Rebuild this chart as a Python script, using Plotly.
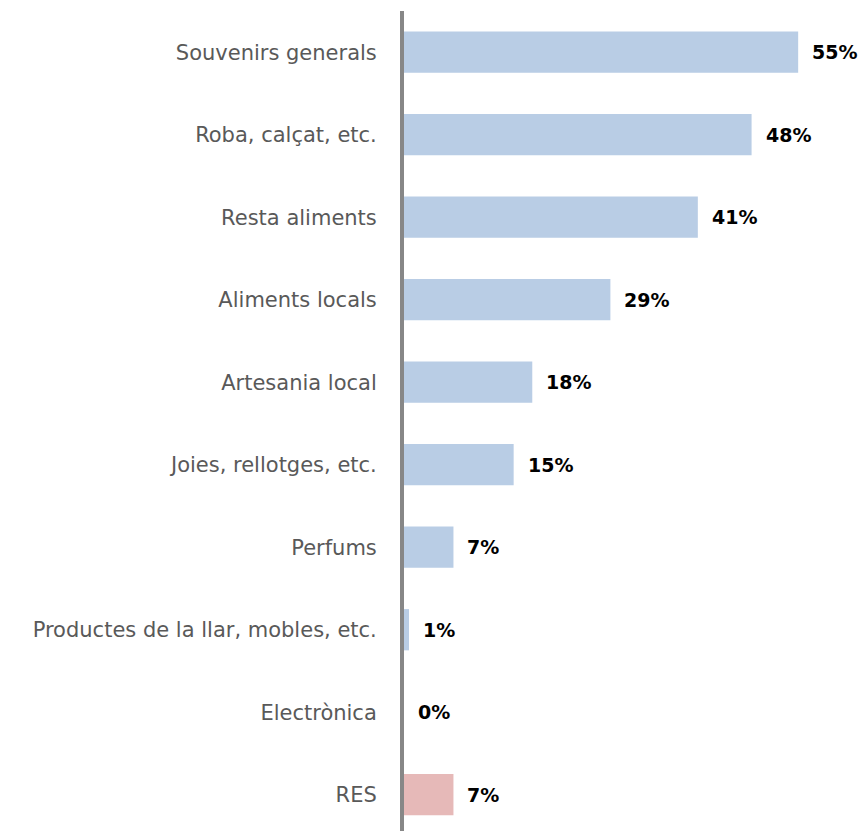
import plotly.graph_objects as go

categories = ["Souvenirs generals", "Roba, calçat, etc.", "Resta aliments", "Aliments locals",
              "Artesania local", "Joies, rellotges, etc.", "Perfums",
              "Productes de la llar, mobles, etc.", "Electrònica", "RES"]
values = [55.0, 48.5, 41.0, 28.8, 17.9, 15.3, 6.9, 0.7, 0.0, 6.9]
labels = ["55%", "48%", "41%", "29%", "18%", "15%", "7%", "1%", "0%", "7%"]
colors = ["#B9CDE5"] * 9 + ["#E6B9B8"]

fig = go.Figure()
fig.add_trace(go.Bar(
    x=values, y=categories, orientation="h",
    marker=dict(color=colors, line=dict(width=0)),
    width=0.5, hoverinfo="skip",
))

for c, v, t in zip(categories, values, labels):
    fig.add_annotation(x=v, y=c, text="<b>%s</b>" % t, showarrow=False,
                       xanchor="left", yanchor="middle", xshift=12,
                       font=dict(family="DejaVu Sans", size=19, color="#000000"))

fig.update_layout(
    width=862, height=831,
    margin=dict(l=404, r=28, t=11, b=0),
    plot_bgcolor="white", paper_bgcolor="white",
    showlegend=False,
    xaxis=dict(range=[0, 60], showgrid=False, zeroline=False, showticklabels=False,
               showline=False, ticks=""),
    yaxis=dict(type="category", categoryorder="array", categoryarray=categories,
               range=[9.44, -0.5], showgrid=False, zeroline=False,
               showline=True, linecolor="#878787", linewidth=4, ticks="",
               ticklabelstandoff=19,
               tickfont=dict(family="DejaVu Sans", size=21, color="#595959")),
)

fig.write_html("out.html")
